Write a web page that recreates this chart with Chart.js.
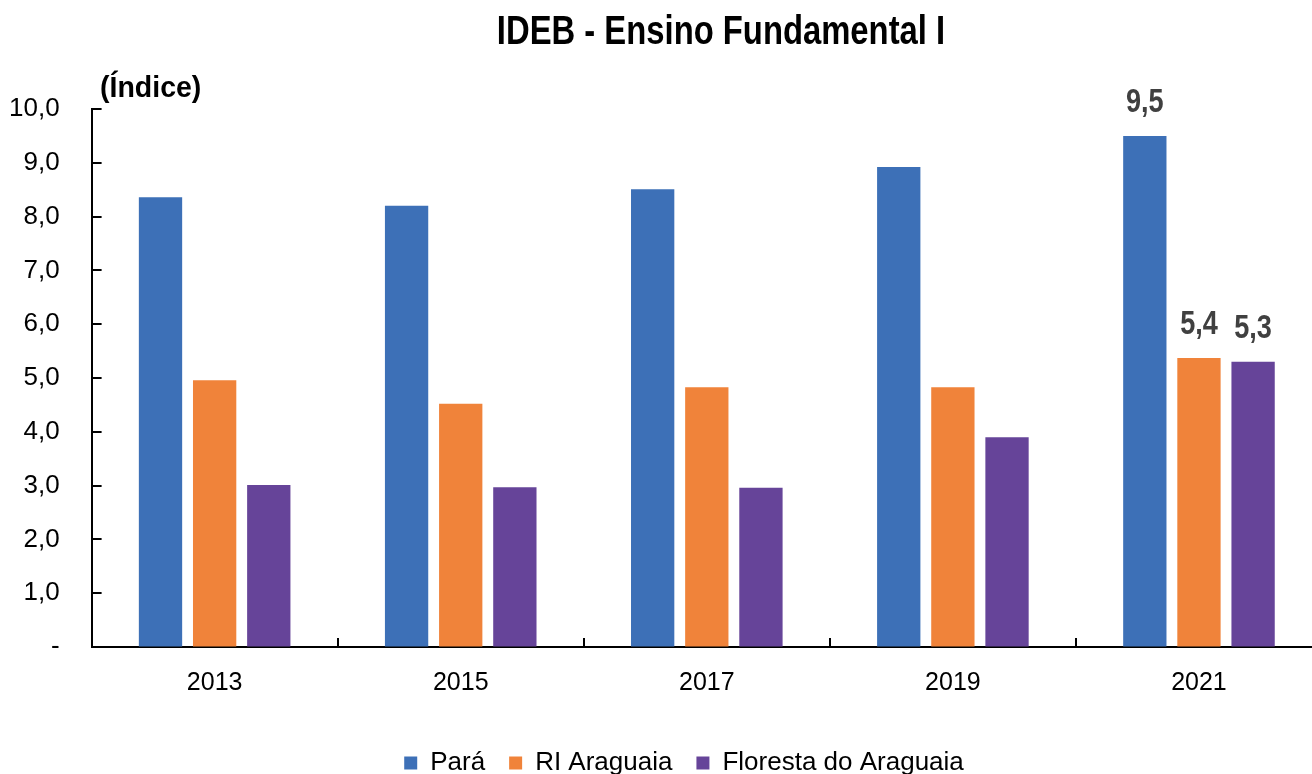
<!DOCTYPE html>
<html>
<head>
<meta charset="utf-8">
<script src="https://cdn.jsdelivr.net/npm/chart.js@4"></script>
<style>
  body { margin: 0; background: #fff; }
  #wrap { width: 1312px; height: 774px; }
</style>
</head>
<body>
<div id="wrap"><canvas id="idebChart"></canvas></div>
<script>
const years = ['2013', '2015', '2017', '2019', '2021']
const para = [8.36, 8.2, 8.51, 8.92, 9.5]
const riAraguaia = [4.96, 4.52, 4.83, 4.83, 5.37]
const floresta = [3.01, 2.97, 2.96, 3.9, 5.3]
const labelledYear = '2021'

const FONT = "'Liberation Sans', Arial, sans-serif"

function fmt(v){
    return v == 0 ? '-' : v.toFixed(1).replace('.', ',')
}

// narrow text, like Arial Narrow in the original
function narrowText(ctx, text, x, y, size, squeeze){
    ctx.save()
    ctx.font = "bold " + size + "px " + FONT
    ctx.translate(x, y)
    ctx.scale(squeeze, 1)
    ctx.fillText(text, 0, 0)
    ctx.restore()
}

// titles, inward tick marks and the 2021 value labels
const extras = {
    id: 'extras',
    afterLayout(chart){
        // legend sits a bit right of centre in the original
        chart.legend.left += 35
        chart.legend.right += 35
        // the original's last category runs past the right edge
        const x = chart.scales.x
        x.right += 10
        x.width += 10
        x.configure()
    },
    afterDraw(chart){
        const ctx = chart.ctx
        const x = chart.scales.x
        const y = chart.scales.y
        ctx.save()
        ctx.fillStyle = '#000'
        ctx.textBaseline = 'alphabetic'
        ctx.textAlign = 'center'
        narrowText(ctx, 'IDEB - Ensino Fundamental I', 721, 44, 40, 0.82)
        ctx.textAlign = 'left'
        narrowText(ctx, '(Índice)', 100, 97, 30, 0.95)

        ctx.strokeStyle = '#000'
        ctx.lineWidth = 2
        y.ticks.forEach((t, i) => {
            if (t.value == 0) return
            const py = Math.round(y.getPixelForTick(i))
            ctx.beginPath()
            ctx.moveTo(x.left, py)
            ctx.lineTo(x.left + 10, py)
            ctx.stroke()
        })
        const step = (x.right - x.left) / years.length
        for (let i = 1; i < years.length; i++){
            const px = Math.round(x.left + i * step)
            ctx.beginPath()
            ctx.moveTo(px, y.bottom)
            ctx.lineTo(px, y.bottom - 9)
            ctx.stroke()
        }

        ctx.fillStyle = '#404040'
        ctx.textAlign = 'center'
        const idx = years.indexOf(labelledYear)
        chart.data.datasets.forEach((ds, d) => {
            const bar = chart.getDatasetMeta(d).data[idx]
            narrowText(ctx, fmt(Math.round(ds.data[idx] * 10) / 10), bar.x, bar.y - 24, 33, 0.82)
        })
        ctx.restore()
    }
}

const data = {
    labels: years,
    datasets: [
        { label: 'Pará', data: para, backgroundColor: '#3D70B7' },
        { label: 'RI Araguaia', data: riAraguaia, backgroundColor: '#F0833A' },
        { label: 'Floresta do Araguaia', data: floresta, backgroundColor: '#664499' }
    ]
}

const config = {
    type: 'bar',
    data,
    options: {
        responsive: true,
        maintainAspectRatio: false,
        animation: false,
        categoryPercentage: 0.66,
        barPercentage: 0.8,
        layout: { padding: { top: 109, right: -9, left: -23, bottom: -12 } },
        plugins: {
            title: { display: false },
            tooltip: { enabled: false },
            legend: {
                position: 'bottom',
                labels: {
                    boxWidth: 13,
                    boxHeight: 13,
                    padding: 24,
                    color: '#000',
                    font: { family: FONT, size: 26 }
                }
            }
        },
        scales: {
            x: {
                grid: { display: true, drawOnChartArea: false, drawTicks: false },
                border: { display: true, color: '#000', width: 2 },
                ticks: { color: '#000', padding: 21, font: { family: FONT, size: 25 } },
                afterFit: scale => { scale.height += 7 }
            },
            y: {
                min: 0,
                max: 10,
                grid: { display: true, drawOnChartArea: false, drawTicks: false },
                border: { display: true, color: '#000', width: 2 },
                ticks: {
                    stepSize: 1,
                    color: '#000',
                    padding: 32,
                    font: { family: FONT, size: 26 },
                    callback: v => fmt(v)
                }
            }
        }
    },
    plugins: [extras]
}

new Chart(document.getElementById('idebChart'), config)
</script>
</body>
</html>
